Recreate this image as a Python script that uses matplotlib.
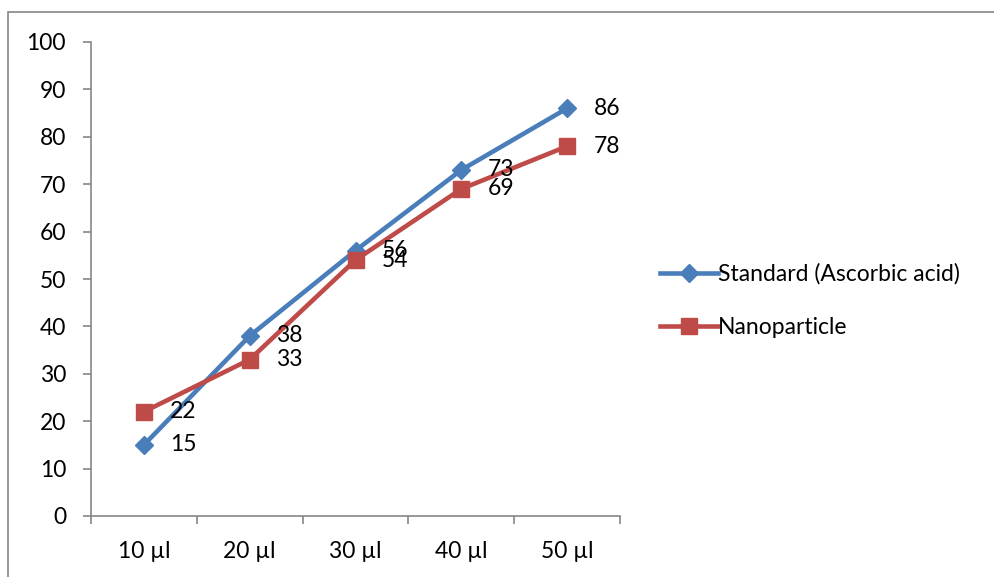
import matplotlib.pyplot as plt
import numpy as np

plt.rcParams['font.family'] = ['Lato', 'DejaVu Sans']

doses = ["10 µl", "20 µl", "30 µl", "40 µl", "50 µl"]
standard = [15, 38, 56, 73, 86]
nanoparticle = [22, 33, 54, 69, 78]

blue = "#4A7EBB"
red = "#BE4B48"
grey = "#868686"
fs = 16.5

fig = plt.figure(figsize=(9.94, 5.77), dpi=100)
# outer chart border
fig.patches.append(plt.Rectangle((8 / 994, -0.05), 1.2, (577 - 12) / 577 + 0.05,
                                 transform=fig.transFigure, fill=False,
                                 edgecolor=grey, lw=1.2))
ax = fig.add_axes([91 / 994, 61 / 577, 529 / 994, 474 / 577])

x = np.arange(len(doses)) + 0.5
ax.plot(x, standard, color=blue, lw=3.3, marker="D", ms=9.5, label="Standard (Ascorbic acid)", zorder=3)
ax.plot(x, nanoparticle, color=red, lw=3.3, marker="s", ms=12, label="Nanoparticle", zorder=3)

for xi, v in zip(x, standard):
    ax.annotate(str(v), (xi, v), xytext=(19, 0), textcoords="offset points",
                va="center", ha="left", fontsize=fs)
for xi, v in zip(x, nanoparticle):
    ax.annotate(str(v), (xi, v), xytext=(19, 0), textcoords="offset points",
                va="center", ha="left", fontsize=fs)

ax.set_xlim(0, len(doses))
ax.set_ylim(0, 100)
ax.set_yticks(range(0, 101, 10))
ax.set_xticks(range(len(doses) + 1))
ax.set_xticklabels([])
ax.set_xticks(x, minor=True)
ax.set_xticklabels(doses, minor=True)
ax.tick_params(axis="x", which="minor", length=0, pad=18, labelsize=fs)
ax.tick_params(axis="x", which="major", length=6, width=1.2, color=grey)
ax.tick_params(axis="y", length=6, width=1.2, color=grey, pad=12, labelsize=fs)

for s in ("top", "right"):
    ax.spines[s].set_visible(False)
for s in ("left", "bottom"):
    ax.spines[s].set_color(grey)
    ax.spines[s].set_linewidth(1.2)

ax.legend(loc="center left", bbox_to_anchor=(1.058, 0.455), frameon=False,
          fontsize=fs, handlelength=2.55, handletextpad=0.0, labelspacing=1.4,
          borderaxespad=0)

fig.savefig("out.png", dpi=100)
